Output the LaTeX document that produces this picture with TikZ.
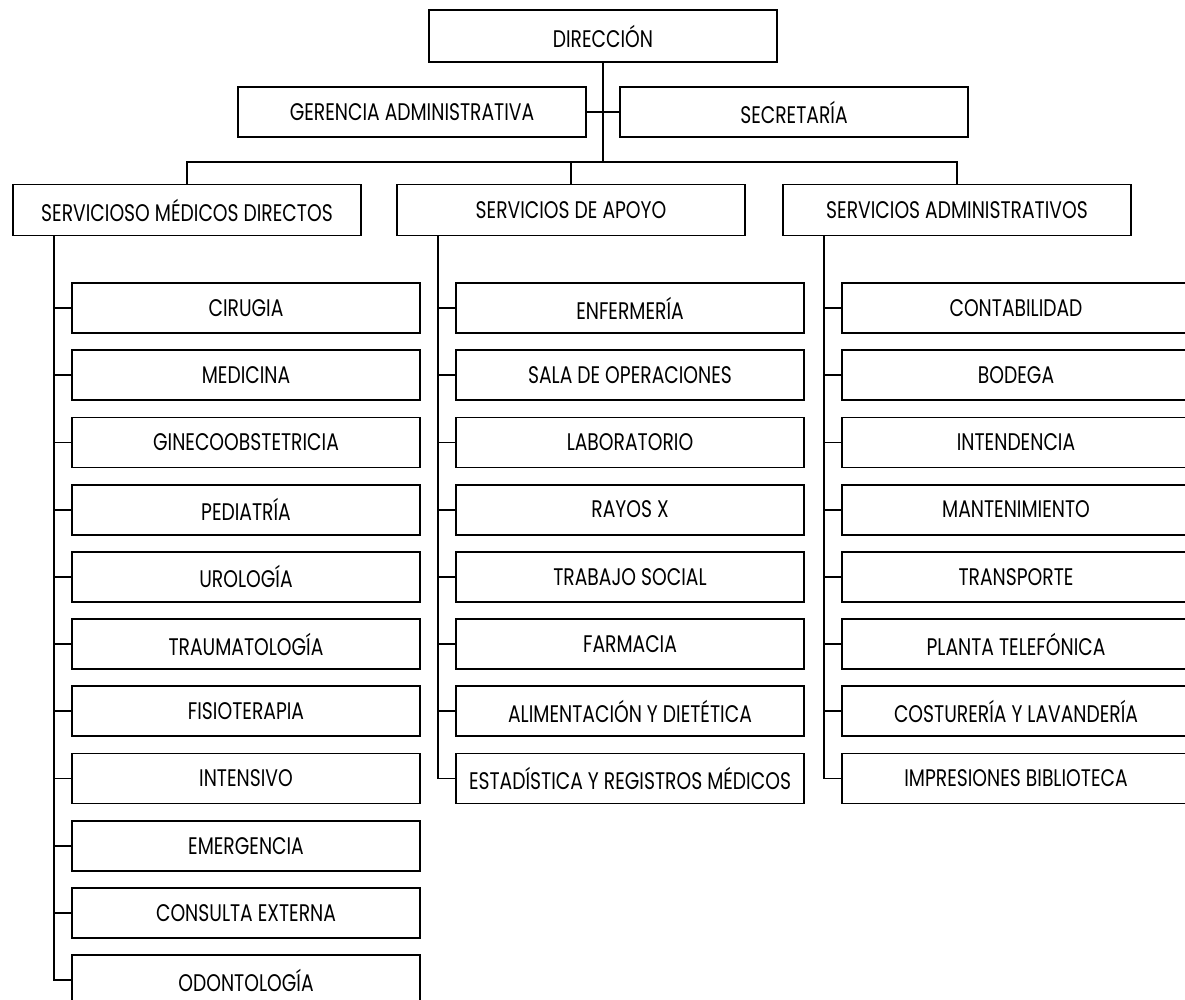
\documentclass[tikz,border=0pt]{standalone}
\usepackage{fontspec}
\setmainfont{Poppins}[FakeStretch=0.78]

\begin{document}
\begin{tikzpicture}[x=1pt,y=-1pt,
  unidad/.style={draw,line width=1.8pt,minimum width=348pt,minimum height=50pt,inner sep=0pt,
    font=\fontsize{24}{26}\selectfont},
  enlace/.style={line width=1.8pt}]
 \clip(0,0)rectangle(1185,999);
 \node[unidad,minimum height=52pt](dir)at(603,36){DIRECCIÓN};
 \node[unidad](ger)at(412,112){GERENCIA ADMINISTRATIVA};
 \node[unidad](sec)at(794,112){SECRETARÍA};
 \node[unidad,minimum height=51pt](smd)at(187,210){SERVICIOSO MÉDICOS DIRECTOS};
 \node[unidad,minimum height=51pt](apo)at(571,210){SERVICIOS DE APOYO};
 \node[unidad,minimum height=51pt](adm)at(957,210){SERVICIOS ADMINISTRATIVOS};
 % one bus under the direction feeds the three areas
 \coordinate(bus)at(603,162);
 \draw[enlace](dir)--(bus);
 \draw[enlace](ger)--(sec);
 \draw[enlace](smd.north)|-(bus)-|(adm.north);
 \draw[enlace](apo.north)|-(bus);
 % spines down the left side of each column
 \coordinate(smdeje)at([xshift=42pt]smd.south west);
 \coordinate(apoeje)at([xshift=42pt]apo.south west);
 \coordinate(admeje)at([xshift=42pt]adm.south west);
 \foreach \txt[count=\i] in {CIRUGIA,MEDICINA,GINECOOBSTETRICIA,PEDIATRÍA,UROLOGÍA,
   TRAUMATOLOGÍA,FISIOTERAPIA,INTENSIVO,EMERGENCIA,CONSULTA EXTERNA,ODONTOLOGÍA}{
  \node[unidad](med\i)at(246,{308+(\i-1)*67.2}){\txt};
  \draw[enlace](smdeje)|-(med\i.west);
 }
 \foreach \txt[count=\i] in {ENFERMERÍA,SALA DE OPERACIONES,LABORATORIO,RAYOS X,
   TRABAJO SOCIAL,FARMACIA,ALIMENTACIÓN Y DIETÉTICA,ESTADÍSTICA Y REGISTROS MÉDICOS}{
  \node[unidad](ap\i)at(630,{308+(\i-1)*67.2}){\txt};
  \draw[enlace](apoeje)|-(ap\i.west);
 }
 \foreach \txt[count=\i] in {CONTABILIDAD,BODEGA,INTENDENCIA,MANTENIMIENTO,TRANSPORTE,
   PLANTA TELEFÓNICA,COSTURERÍA Y LAVANDERÍA,IMPRESIONES BIBLIOTECA}{
  \node[unidad](ad\i)at(1016,{308+(\i-1)*67.2}){\txt};
  \draw[enlace](admeje)|-(ad\i.west);
 }
\end{tikzpicture}
\end{document}
